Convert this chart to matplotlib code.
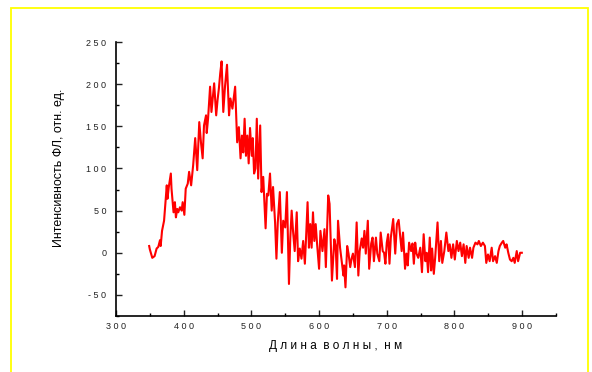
import matplotlib.pyplot as plt
from matplotlib.patches import Rectangle
from matplotlib.ticker import MultipleLocator

plt.rcParams['font.family'] = ['Liberation Sans', 'DejaVu Sans']

# wavelength, nm
wl = [349, 350, 353.6, 357, 360, 362.5, 365, 366, 368, 371, 375, 376, 378, 381, 382,
      385, 387, 388.5, 390.5, 392, 394.5, 397, 398.5, 401, 403, 406, 408, 411, 414,
      417, 420, 423, 425.5, 428, 430, 433, 434, 436, 439, 441, 445, 448, 450, 452,
      454, 456, 458.5, 461, 464, 467, 469, 472, 476, 479, 481.5, 484, 486, 488, 490,
      492, 494, 496, 498, 500.5, 502, 504, 506, 508, 510, 513, 515, 517.5, 521, 523,
      525, 527.5, 530, 532, 535, 537, 539, 542, 545, 547, 550, 552.5, 555.5, 557.5,
      559.5, 561.5, 564, 567, 569, 571.5, 574, 576.5, 579, 581, 583, 585, 587, 589,
      591, 593, 595, 597, 600, 602, 605, 608, 610, 613.5, 615.5, 619, 622.5, 624.5,
      626.5, 628, 631, 633, 636, 637, 639, 641.5, 643.5, 646, 648, 650, 653, 655.5,
      658, 660, 663, 665, 667, 669, 672, 674, 677, 679, 681, 684, 686, 689, 691, 694,
      696, 698, 700, 702, 704, 706, 709.5, 712.5, 715, 717.5, 720, 722, 724, 727, 729,
      731, 733, 736, 738, 740, 742, 744, 746.5, 749.5, 752, 754.5, 757, 759, 761,
      763.5, 765.5, 767, 769.5, 771.5, 775, 777.5, 780, 782, 785, 788, 791, 793,
      795.5, 798, 800.5, 803.5, 806, 808.5, 811, 813.5, 816, 818, 821, 823, 826, 828,
      831, 834, 836, 839, 842, 845, 847, 849.5, 852, 855, 857, 860, 862.5, 865, 867,
      870, 872, 875, 877, 879.5, 882, 884.5, 887, 889, 892, 894, 897, 899.5]

# photoluminescence intensity, a.u.
pl = [8, 4, -6, -4, 5, 7, 15, 8, 26, 38, 80, 64, 78, 94, 76,
      48, 60, 42, 52, 48, 54, 50, 60, 45, 76, 82, 96, 80, 104,
      136, 98, 155, 131, 112, 151, 163, 142, 159, 197, 167, 201, 163, 181, 195,
      213, 227, 167, 197, 223, 163, 183, 171, 197, 131, 149, 112, 139, 119, 159,
      115, 139, 106, 148, 115, 136, 94, 100, 159, 88, 151, 72, 90, 29, 70,
      68, 94, 50, 78, 36, -7, 36, 72, 0, 38, 30, 72, -37, 18,
      50, 26, 2, 48, -10, 5, -7, 14, -13, 22, 60, 6, 34, 6,
      48, 14, 34, 11, -19, 26, 2, 28, -17, 68, 58, -33, 16, 8,
      -31, 38, 6, -7, -27, -15, -41, 8, -1, -17, -7, -1, -17, 36,
      -27, 2, 17, 6, 26, -1, 38, -19, 11, 18, -10, 18, -1, -10, 24, 2,
      0, -13, 12, 22, -13, 18, 40, -1, 34, 39, 18, 2, 24, -19, -1,
      -15, 12, 2, 11, -13, 12, -1, -6, 6, -23, 22, -10, 0, -23,
      18, -21, 5, -25, -6, 36, -10, 14, -12, 2, 24, 2, 10,
      -6, 10, -8, 14, 2, 12, -4, 10, -12, 8, -6, 6, -6, 6,
      12, 10, 14, 8, 12, 8, -12, -2, -10, 6, -10, -4, -12, 2, 8,
      12, 14, 6, 10, 0, -8, -10, -6, -12, 2, -10, 0, 0]

xticks = [300, 400, 500, 600, 700, 800, 900]
yticks = [-50, 0, 50, 100, 150, 200, 250]


def spaced(s):
    return ' '.join(s)


fig = plt.figure(figsize=(5.92, 3.72), dpi=100)
fig.patches.append(Rectangle((11 / 592, -0.1), 577 / 592, 1.1 - 8 / 372,
                             transform=fig.transFigure, fill=False,
                             edgecolor='#ffff00', linewidth=1.3))

ax = fig.add_axes([116 / 592, 1 - 316 / 372, 440 / 592, 274 / 372])
ax.plot(wl, pl, color='#ff0000', linewidth=1.5)

ax.set_xlim(300, 950)
ax.set_ylim(-75, 250)
ax.spines['top'].set_visible(False)
ax.spines['right'].set_visible(False)
for s in ('left', 'bottom'):
    ax.spines[s].set_linewidth(1.2)

ax.set_xticks(xticks)
ax.set_xticklabels([spaced(str(t)) for t in xticks])
ax.set_yticks(yticks)
ax.set_yticklabels([spaced(str(t)) for t in yticks])
ax.xaxis.set_minor_locator(MultipleLocator(50))
ax.yaxis.set_minor_locator(MultipleLocator(25))
ax.tick_params(which='major', direction='in', length=4, width=1, labelsize=6.5,
               colors='#222222')
ax.tick_params(which='minor', direction='in', length=2.5, width=1)
ax.tick_params(axis='y', pad=7)
ax.tick_params(axis='x', pad=4)

ax.set_xlabel('Д л и н а  в о л н ы ,  н м', fontsize=8.5, labelpad=7)
ax.set_ylabel('Интенсивность ФЛ, отн. ед.', fontsize=9)
ax.yaxis.set_label_coords(-0.115, 0.54)

fig.savefig('out.png', dpi=100)
